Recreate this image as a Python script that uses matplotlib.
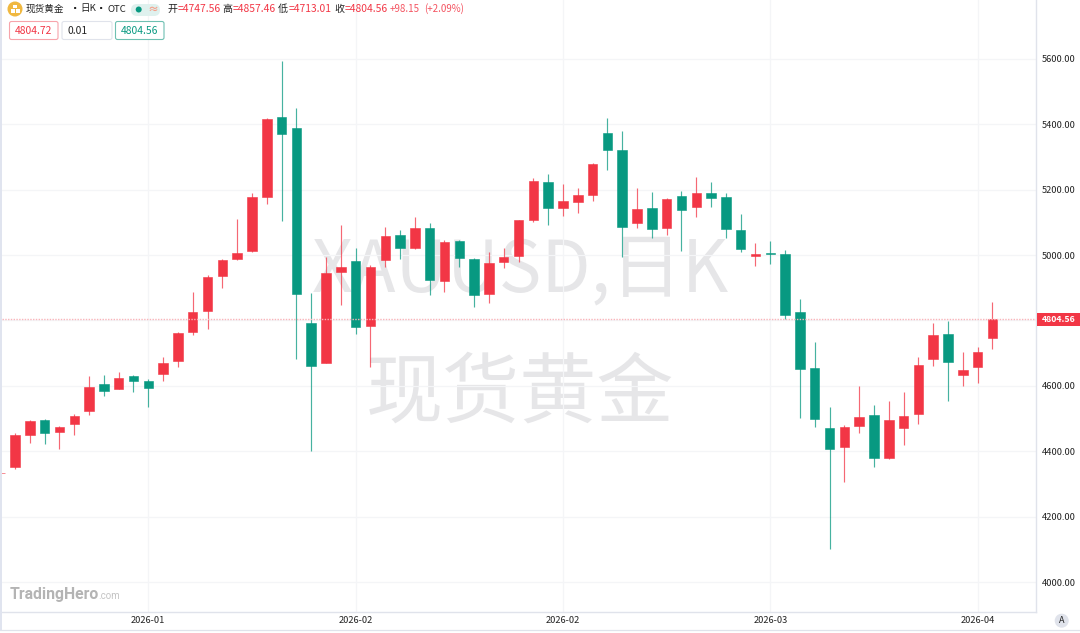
import matplotlib
matplotlib.use('Agg')
import matplotlib.pyplot as plt
from matplotlib.patches import Circle, FancyBboxPatch, Rectangle
import numpy as np

plt.rcParams['font.family'] = ['Noto Sans CJK SC', 'DejaVu Sans']

# OHLC, the first candle is cut by the left edge
opens = [4332, 4353, 4449, 4495, 4460, 4483, 4523, 4606, 4591, 4630, 4616, 4637, 4675, 4764, 4829, 4936, 4987, 5011,
         5176, 5423, 5389, 4791, 4671, 4949, 4981, 4784, 4985, 5061, 5022, 5082, 4921, 5044, 4988, 4880, 4978, 4998,
         5107, 5224, 5143, 5163, 5184, 5372, 5322, 5098, 5144, 5083, 5181, 5148, 5189, 5176, 5076, 4998, 5005, 5003,
         4825, 4654, 4470, 4414, 4477, 4510, 4378, 4472, 4515, 4681, 4757, 4632, 4658, 4747.56]
highs = [4340, 4455, 4495, 4499, 4477, 4514, 4630, 4633, 4642, 4632, 4620, 4689, 4764, 4888, 4939, 4988, 5109, 5189,
         5418, 5594, 5449, 4883, 4993, 5091, 5020, 4969, 5085, 5076, 5117, 5097, 5045, 5046, 4991, 5010, 5020, 5108,
         5235, 5249, 5216, 5204, 5281, 5418, 5378, 5204, 5193, 5174, 5196, 5238, 5222, 5191, 5125, 5037, 5044, 5015,
         4865, 4733, 4534, 4480, 4599, 4541, 4554, 4580, 4687, 4791, 4798, 4704, 4718, 4857.46]
lows = [4325, 4345, 4426, 4422, 4407, 4450, 4511, 4570, 4589, 4581, 4536, 4616, 4658, 4754, 4773, 4900, 4985, 5009,
        5156, 5105, 4681, 4402, 4669, 4847, 4759, 4658, 4964, 4989, 5017, 4878, 4888, 4964, 4842, 4852, 4959, 4980,
        5102, 5092, 5120, 5129, 5165, 5261, 4995, 5083, 5051, 5062, 5013, 5117, 5148, 5053, 5009, 4966, 4973, 4804,
        4502, 4475, 4100, 4307, 4455, 4351, 4375, 4419, 4482, 4661, 4554, 4599, 4608, 4713.01]
closes = [4333, 4449, 4492, 4456, 4475, 4509, 4595, 4585, 4624, 4615, 4594, 4669, 4762, 4827, 4934, 4984, 5005, 5177,
          5416, 5370, 4882, 4661, 4946, 4963, 4780, 4963, 5059, 5022, 5082, 4923, 5041, 4992, 4878, 4975, 4994, 5106,
          5226, 5143, 5164, 5183, 5277, 5321, 5087, 5140, 5080, 5172, 5137, 5191, 5173, 5079, 5017, 5003, 5003, 4817,
          4650, 4498, 4408, 4473, 4504, 4378, 4495, 4508, 4664, 4755, 4672, 4648, 4704, 4804.56]

y_ticks = [4000, 4200, 4400, 4600, 4800, 5000, 5200, 5400, 5600]
y_labels = ['4000.00', '4200.00', '4400.00', '4600.00', '', '5000.00', '5200.00', '5400.00', '5600.00']
date_idx = [10, 24, 38, 52, 66]
date_labels = ['2026-01', '2026-02', '2026-02', '2026-03', '2026-04']
last_price = 4804.56

head_labels = ['开', '高', '低', '收']
head_values = ['=4747.56', '=4857.46', '=4713.01', '=4804.56']
head_x = [167, 222, 278, 334]

RED = '#f23645'
GREEN = '#089981'
TEXT = '#222222'
W, H = 1080, 633

fig = plt.figure(figsize=(10.8, 6.33), dpi=100)


def pixel_axes(zorder):
    # axes over the whole figure, in picture pixels
    a = fig.add_axes([0, 0, 1, 1], zorder=zorder)
    a.set_xlim(0, W)
    a.set_ylim(H, 0)
    a.axis('off')
    return a


bg = pixel_axes(0)
ax = fig.add_axes([2 / W, 1 - 612 / H, 1034 / W, 612 / H], zorder=1)
top = pixel_axes(2)

# big watermark under the candles
wm = '#e6e6e8'
bg.text(520, 271, 'XAUUSD,日K', color=wm, fontsize=51.5, ha='center', va='center')
bg.text(519.5, 395, '现货黄金', color=wm, fontsize=55.5, ha='center', va='center')

x = np.arange(len(opens))
opens = np.array(opens)
closes = np.array(closes)
colors = [RED if c >= o else GREEN for o, c in zip(opens, closes)]

ax.vlines(x, lows, highs, colors=colors, lw=0.85, alpha=0.75, zorder=3)
ax.bar(x, np.abs(closes - opens), bottom=np.minimum(opens, closes), width=0.64, color=colors,
       edgecolor=colors, linewidth=0.4, zorder=4)
ax.axhline(last_price, color='#f9b4ba', lw=1, ls=(0, (1, 1)), zorder=5)

ax.patch.set_alpha(0)
ax.set_xlim(0.122, 69.94)
ax.set_ylim(3908.3, 5779.8)
ax.set_yticks(y_ticks)
ax.set_yticklabels(y_labels)
ax.set_xticks(date_idx)
ax.set_xticklabels(date_labels)
ax.grid(True, color='#f4f5f7', lw=0.9)
ax.set_axisbelow(True)
ax.yaxis.tick_right()
ax.tick_params(axis='y', length=0, pad=4, labelsize=6.7, labelcolor=TEXT)
ax.tick_params(axis='x', length=0, pad=3, labelsize=6.7, labelcolor=TEXT)
for side in ['top', 'left']:
    ax.spines[side].set_visible(False)
for side in ['right', 'bottom']:
    ax.spines[side].set_color('#e0e3eb')
    ax.spines[side].set_linewidth(1)

# last price tag
top.add_patch(Rectangle((1037, 313), 43, 13, fc=RED, ec='none'))
top.text(1042, 319.3, '%.2f' % last_price, color='white', fontsize=6.3, ha='left', va='center', weight='bold')

# frame bits
top.add_patch(Rectangle((0, 0), 2, 630, fc='#e0e4ef', ec='none'))
top.plot([0, W], [630, 630], color='#e0e3eb', lw=0.9)
top.add_patch(Circle((1061.7, 620.7), 7, fc='#e0e3eb', ec='none'))
top.text(1061.7, 620.5, 'A', color=TEXT, fontsize=6.5, ha='center', va='center')

# header
top.add_patch(Circle((15, 9), 7.5, fc='#f0b840', ec='none'))
top.add_patch(Rectangle((13, 4.5), 4, 3.5, fc='white', ec='none'))
top.add_patch(Rectangle((10.5, 9), 4, 3.5, fc='white', ec='none'))
top.add_patch(Rectangle((15.5, 9), 4, 3.5, fc='white', ec='none'))
for xp, s in [(26, '现货黄金'), (80, '日K'), (107, 'OTC')]:
    top.text(xp, 9, s, color=TEXT, fontsize=6.9, ha='left', va='center')
for xp in [75, 101.5]:
    top.text(xp, 9, '·', color=TEXT, fontsize=8, ha='center', va='center', family='DejaVu Sans', weight='bold')
top.add_patch(FancyBboxPatch((131, 4), 29, 12, boxstyle='round,pad=0,rounding_size=6', fc='#dff1ee', ec='none'))
top.add_patch(Circle((138.7, 9.5), 3, fc=GREEN, ec='none'))
top.text(153, 9.5, '≈', color='#f5a08a', fontsize=8, ha='center', va='center', weight='bold')

for xp, lab, val in zip(head_x, head_labels, head_values):
    top.text(xp, 9, lab, color=TEXT, fontsize=7.2, ha='left', va='center')
    top.text(xp + 10.5, 9, val, color=RED, fontsize=7.4, ha='left', va='center')
top.text(390, 9, '+98.15', color=RED, fontsize=7, ha='left', va='center', alpha=0.85)
top.text(424, 9, '(+2.09%)', color=RED, fontsize=7, ha='left', va='center', alpha=0.85)

# price boxes
for x0, x1, edge, text, color in [(9.5, 58, '#f7a4ab', '4804.72', RED), (62, 112, '#e0e3eb', '0.01', TEXT),
                                  (115.5, 164, '#6fc0b2', '4804.56', GREEN)]:
    top.add_patch(FancyBboxPatch((x0, 21.5), x1 - x0, 18, boxstyle='round,pad=0,rounding_size=2', fc='white',
                                 ec=edge, lw=0.8))
    if text == '0.01':
        top.text(67, 30.5, text, color=color, fontsize=7.4, ha='left', va='center')
    else:
        top.text((x0 + x1) / 2, 30.5, text, color=color, fontsize=7.4, ha='center', va='center')

# logo
top.text(10, 594, 'TradingHero', color='#b4b4b4', fontsize=11.3, weight='bold', ha='left', va='center',
         family='Roboto')
top.text(98, 596, '.com', color='#c4c4c4', fontsize=7, ha='left', va='center', family='Roboto')

fig.savefig('out.png', dpi=100)
